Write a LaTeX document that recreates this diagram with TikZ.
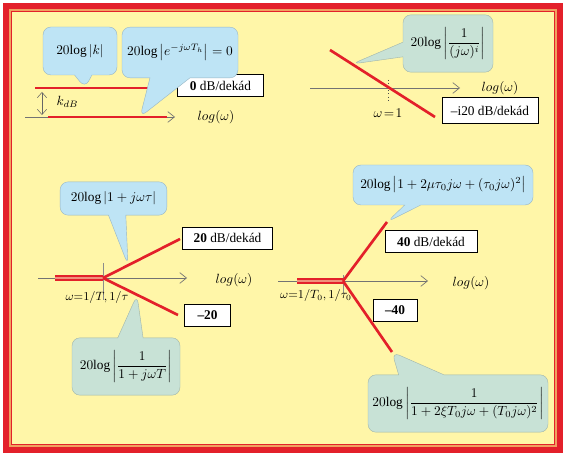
\documentclass[tikz,border=0pt]{standalone}
\usepackage{amsmath}
\usepackage{fontspec}
\setmainfont{Liberation Serif}
\usetikzlibrary{arrows.meta,shapes.callouts}
\definecolor{panel}{HTML}{FFF6A8}
\definecolor{framered}{HTML}{E3202A}
\definecolor{frameorange}{HTML}{F0A060}
\definecolor{asymred}{HTML}{E3202A}
\definecolor{flatfill}{HTML}{F0907C}
\definecolor{callblue}{HTML}{BEE4F5}
\definecolor{callgreen}{HTML}{C8E2D6}

\begin{document}
\begin{tikzpicture}[x=0.75pt, y=-0.75pt,
  axis/.style={black!55, line width=0.5pt, -{Straight Barb[length=5pt,width=8pt]}},
  asym/.style={asymred, line width=2pt},
  flat/.style={asymred, line width=1.4pt, double=flatfill, double distance=1.4pt},
  slope/.style={draw, fill=white, line width=0.6pt, inner sep=0pt, minimum height=17pt},
  bluecall/.style={rectangle callout, rounded corners=6pt, fill=callblue, draw=callblue!80!black, line width=0.3pt, inner sep=0pt},
  greencall/.style={rectangle callout, rounded corners=6pt, fill=callgreen, draw=callgreen!80!black, line width=0.3pt, inner sep=0pt},
  marker/.style={black!45, line width=0.4pt},
  brklabel/.style={font=\small, inner sep=1pt}]
\useasboundingbox (0,0) rectangle (571,459);
% frame
\fill[panel] (8,8) rectangle (561,451);
\draw[framered, line width=4.5pt] (6,6) rectangle (560,450);
\draw[frameorange, line width=1pt] (10,10) rectangle (556,446);
\draw[framered, line width=0.7pt] (11.5,11.5) rectangle (554.5,444.5);

% constant and delay
\coordinate (kL) at (35,88);
\coordinate (kR) at (172,88);
\coordinate (ax1a) at (25,117);
\coordinate (ax1b) at (175,117);
\coordinate (hL) at (48,117);
\coordinate (hR) at (167,117);
\coordinate (kdbT) at (42,92);
\coordinate (kdbB) at (42,115);
\coordinate (tipK) at (85,88);
\coordinate (tipH) at (140,117);
\draw[axis] (ax1a) -- (ax1b);
\draw[asym] (kL) -- (kR);
\draw[asym] (hL) -- (hR);
\draw[black!60, line width=0.4pt, {Straight Barb[length=4pt,width=7pt]}-{Straight Barb[length=4pt,width=7pt]}] (kdbT) -- (kdbB);
\node[anchor=west] (kdb) at (52,102) {$k_{dB}$};
\node[anchor=west] (log1) at (193,117) {$log(\omega)$};
\node[slope, minimum width=64pt] (s0) at (220.5,85.5) {\textbf{0} dB/dekád};
\node[bluecall, minimum width=55.5pt, minimum height=36pt, callout absolute pointer=(tipK), callout pointer width=13pt] (cK) at (80,51) {$20\mathrm{log}\left|k\right|$};
\node[bluecall, minimum width=87pt, minimum height=38pt, callout absolute pointer=(tipH), callout pointer width=30pt] (cH) at (180,52.5) {$20\mathrm{log}\left|e^{-j\omega T_h}\right|=0$};

% integrator
\coordinate (sA) at (330,50);
\coordinate (sB) at (435,117);
\coordinate (ax2a) at (310,88);
\coordinate (ax2b) at (460,88);
\coordinate (w1T) at (388,80);
\coordinate (w1B) at (388,102);
\coordinate (tipI) at (352,64);
\draw[axis] (ax2a) -- (ax2b);
\draw[black!70, line width=0.5pt, dotted] (w1T) -- (w1B);
\draw[asym] (sA) -- (sB);
\node (w1) at (388,113) {$\omega\!=\!1$};
\node[anchor=west] (log2) at (477,88) {$log(\omega)$};
\node[slope, minimum width=72pt, minimum height=19pt] (si) at (490,110.5) {--i20 dB/dekád};
\node[greencall, minimum width=67.5pt, minimum height=43pt, callout absolute pointer=(tipI), callout pointer width=11pt] (cI) at (448,43.5) {$20\mathrm{log}\left|\dfrac{1}{(j\omega)^i}\right|$};

% first order
\coordinate (ax3a) at (38,278);
\coordinate (ax3b) at (187,278);
\coordinate (f1a) at (55,278);
\coordinate (brk1) at (103,278);
\coordinate (up1) at (180,239);
\coordinate (dn1) at (178,315);
\coordinate (v1T) at (103,263);
\coordinate (v1B) at (103,300);
\coordinate (tipT) at (128,265);
\coordinate (tipTg) at (137,295);
\draw[axis] (ax3a) -- (ax3b);
\draw[marker] (v1T) -- (v1B);
\draw[flat] (f1a) -- (brk1);
\draw[asym] (brk1) -- (up1);
\draw[asym] (brk1) -- (dn1);
\node[brklabel] (w2) at (97,298) {$\omega{=}1/T,1/\tau$};
\node[anchor=west] (log3) at (211,280) {$log(\omega)$};
\node[slope, minimum width=67pt, minimum height=16.5pt] (s20) at (227.5,238) {\textbf{20} dB/dekád};
\node[slope, minimum width=34pt] (sm20) at (207.5,315.5) {\textbf{--20}};
\node[bluecall, minimum width=80pt, minimum height=25pt, callout absolute pointer=(tipT), callout pointer width=13pt] (cT) at (113.5,198.5) {$20\mathrm{log}\left|1+j\omega\tau\right|$};
\node[greencall, minimum width=81pt, minimum height=43pt, callout absolute pointer=(tipTg), callout pointer width=19pt] (cTg) at (126,366.5) {$20\mathrm{log}\left|\dfrac{1}{1+j\omega T}\right|$};

% second order
\coordinate (ax4a) at (278,281);
\coordinate (ax4b) at (428,281);
\coordinate (f2a) at (297,281);
\coordinate (brk2) at (343,281);
\coordinate (up2) at (387,222);
\coordinate (dn2) at (392,352);
\coordinate (v2T) at (343,275);
\coordinate (v2B) at (343,293);
\draw[axis] (ax4a) -- (ax4b);
\draw[marker] (v2T) -- (v2B);
\draw[flat] (f2a) -- (brk2);
\draw[asym] (brk2) -- (up2);
\draw[asym] (brk2) -- (dn2);
\node[brklabel] (w3) at (316,296) {$\omega{=}1/T_0,1/\tau_0$};
\node[anchor=west] (log4) at (448,283) {$log(\omega)$};
\node[slope, minimum width=69pt] (s40) at (431,241.5) {\textbf{40} dB/dekád};
\node[slope, minimum width=33pt] (sm40) at (395,310.5) {\textbf{--40}};
\node[bluecall, minimum width=135pt, minimum height=30pt, callout absolute pointer=(up2), callout pointer width=12pt] (cM) at (443,185) {$20\mathrm{log}\left|1+2\mu\tau_0 j\omega+(\tau_0 j\omega)^2\right|$};
\node[greencall, minimum width=135pt, minimum height=43pt, callout absolute pointer=(dn2), callout pointer width=34pt] (cMg) at (458,403.5) {$20\mathrm{log}\left|\dfrac{1}{1+2\xi T_0 j\omega+(T_0 j\omega)^2}\right|$};
\end{tikzpicture}
\end{document}
